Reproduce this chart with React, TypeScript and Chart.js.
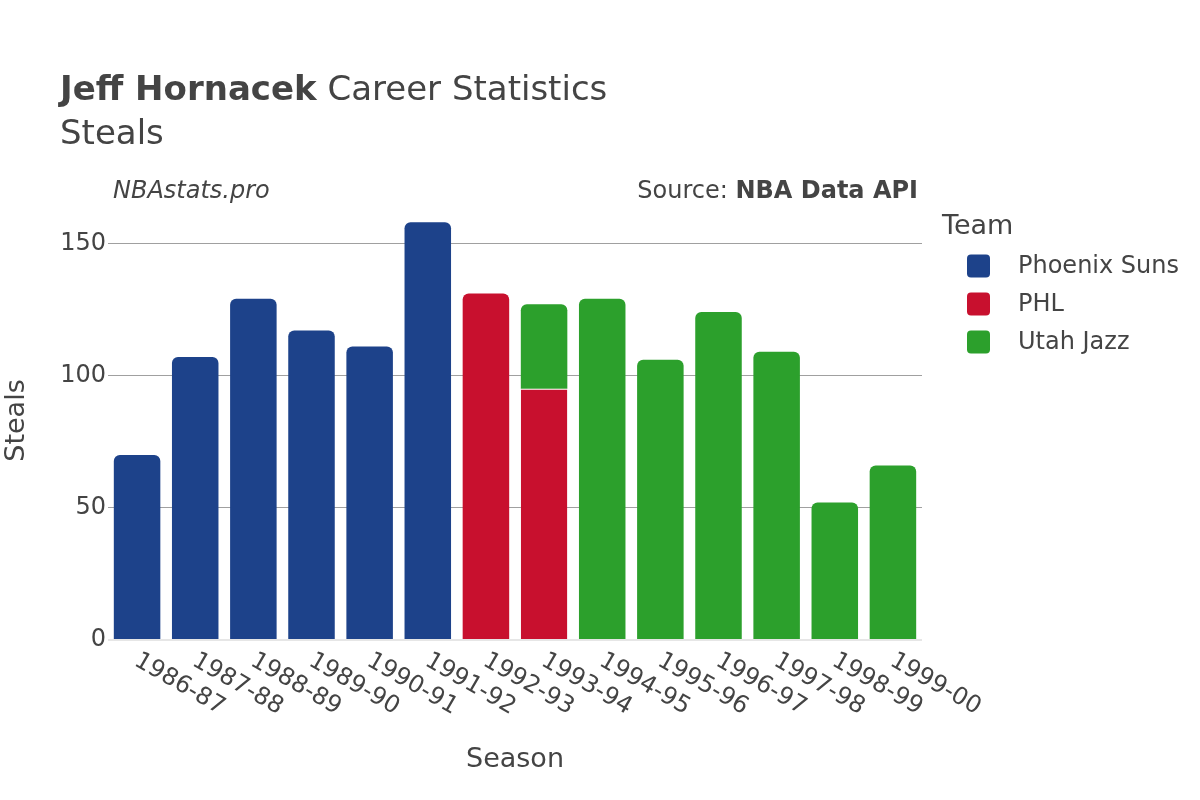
import React, { useEffect, useRef } from "react";
import { Chart, registerables } from "chart.js";

Chart.register(...registerables);

const seasons = [
  "1986-87", "1987-88", "1988-89", "1989-90", "1990-91", "1991-92", "1992-93",
  "1993-94", "1994-95", "1995-96", "1996-97", "1997-98", "1998-99", "1999-00",
];
const teams = ["Phoenix Suns", "PHL", "Utah Jazz"];
const teamColors = ["#1d428a", "#c8102e", "#2ca02c"];
const phoenixSteals = [70, 107, 129, 117, 111, 158, null, null, null, null, null, null, null, null];
const phlSteals = [null, null, null, null, null, null, 131, 95, null, null, null, null, null, null];
const utahSteals = [null, null, null, null, null, null, null, 32, 129, 106, 124, 109, 52, 66];
const yTicks = [0, 50, 100, 150];

const FONT = "'DejaVu Sans', sans-serif";
const TEXT = "#444";

const textPlugin = {
  id: "textPlugin",
  afterDraw(chart: any) {
    const ctx = chart.ctx as CanvasRenderingContext2D;
    const area = chart.chartArea;
    const xs = chart.scales.x;
    ctx.save();
    ctx.fillStyle = TEXT;
    // Title
    ctx.textBaseline = "alphabetic";
    ctx.textAlign = "left";
    ctx.font = `bold 34px ${FONT}`;
    const boldPart = "Jeff Hornacek";
    ctx.fillText(boldPart, 60, 100);
    const w = ctx.measureText(boldPart).width;
    ctx.font = `34px ${FONT}`;
    ctx.fillText(" Career Statistics", 60 + w, 100);
    ctx.fillText("Steals", 60, 144);

    // Watermark & source
    ctx.textBaseline = "middle";
    ctx.font = `italic 24px ${FONT}`;
    ctx.fillText("NBAstats.pro", 113, 192);
    ctx.textAlign = "right";
    ctx.font = `bold 24px ${FONT}`;
    const src = "NBA Data API";
    ctx.fillText(src, 918, 192);
    const sw = ctx.measureText(src).width;
    ctx.font = `24px ${FONT}`;
    ctx.fillText("Source: ", 918 - sw, 192);

    // X tick labels (rotated 30deg clockwise)
    ctx.font = `24px ${FONT}`;
    ctx.textAlign = "left";
    ctx.textBaseline = "middle";
    seasons.forEach((s, i) => {
      const x = xs.getPixelForValue(i);
      ctx.save();
      ctx.translate(x - 1, area.bottom + 19);
      ctx.rotate((30 * Math.PI) / 180);
      ctx.fillText(s, 0, 0);
      ctx.restore();
    });

    // Axis titles
    ctx.font = `27px ${FONT}`;
    ctx.textAlign = "center";
    ctx.fillText("Season", (area.left + area.right) / 2, 760);
    ctx.save();
    ctx.translate(17, (area.top + area.bottom) / 2);
    ctx.rotate(-Math.PI / 2);
    ctx.fillText("Steals", 0, 0);
    ctx.restore();

    // Legend
    ctx.textAlign = "left";
    ctx.font = `27px ${FONT}`;
    ctx.fillText("Team", 942, 227);
    ctx.font = `24px ${FONT}`;
    chart.data.datasets.forEach((ds: any, i: number) => {
      const cy = 266 + i * 38;
      ctx.fillStyle = ds.backgroundColor;
      ctx.beginPath();
      (ctx as any).roundRect(967, cy - 11.5, 23, 23, 4);
      ctx.fill();
      ctx.fillStyle = TEXT;
      ctx.fillText(ds.label, 1018, cy + 1);
    });
    ctx.restore();
  },
};

const seriesData = [phoenixSteals, phlSteals, utahSteals];

function hasAbove(dsIndex: number, i: number) {
  for (let d = dsIndex + 1; d < seriesData.length; d++) {
    if (seriesData[d][i] != null) return true;
  }
  return false;
}

export default function App() {
  const ref = useRef<HTMLCanvasElement | null>(null);
  useEffect(() => {
    if (!ref.current) return;
    const chart = new Chart(ref.current, {
      type: "bar",
      data: {
        labels: seasons,
        datasets: teams.map((t, k) => ({
          label: t,
          data: seriesData[k] as any,
          backgroundColor: teamColors[k],
          borderColor: "rgba(255,255,255,0.85)",
          borderWidth: (c: any) => (hasAbove(c.datasetIndex, c.dataIndex) ? { top: 1, left: 0, right: 0, bottom: 0 } : 0),
          borderRadius: (c: any) => (hasAbove(c.datasetIndex, c.dataIndex) ? 0 : 6),
          borderSkipped: "start",
          barPercentage: 0.8,
          categoryPercentage: 1,
        })),
      },
      options: {
        responsive: false,
        animation: false,
        layout: { padding: { left: 0, right: 278, top: 201, bottom: 0 } },
        plugins: {
          legend: { display: false },
          title: { display: false },
          tooltip: { enabled: false },
        },
        scales: {
          x: {
            stacked: true,
            grid: { display: false },
            border: { display: false },
            ticks: { display: false },
            afterFit: (s: any) => {
              s.height = 160;
            },
          },
          y: {
            stacked: true,
            min: 0,
            max: 166,
            afterBuildTicks: (s: any) => {
              s.ticks = yTicks.map((v) => ({ value: v }));
            },
            grid: {
              drawTicks: false,
              color: (c: any) => (c.tick && c.tick.value === 0 ? "#e6e6e6" : "#a0a0a0"),
              lineWidth: (c: any) => (c.tick && c.tick.value === 0 ? 2 : 1),
            },
            border: { display: false },
            ticks: {
              padding: 2,
              color: TEXT,
              font: { family: FONT, size: 24 },
            },
            afterFit: (s: any) => {
              s.width = 108;
            },
          },
        },
      },
      plugins: [textPlugin],
    });
    return () => chart.destroy();
  }, []);
  return (
    <div style={{ position: "absolute", left: 0, top: 0, width: 1200, height: 800, background: "#fff" }}>
      <canvas ref={ref} width={1200} height={800} style={{ display: "block" }} />
    </div>
  );
}
